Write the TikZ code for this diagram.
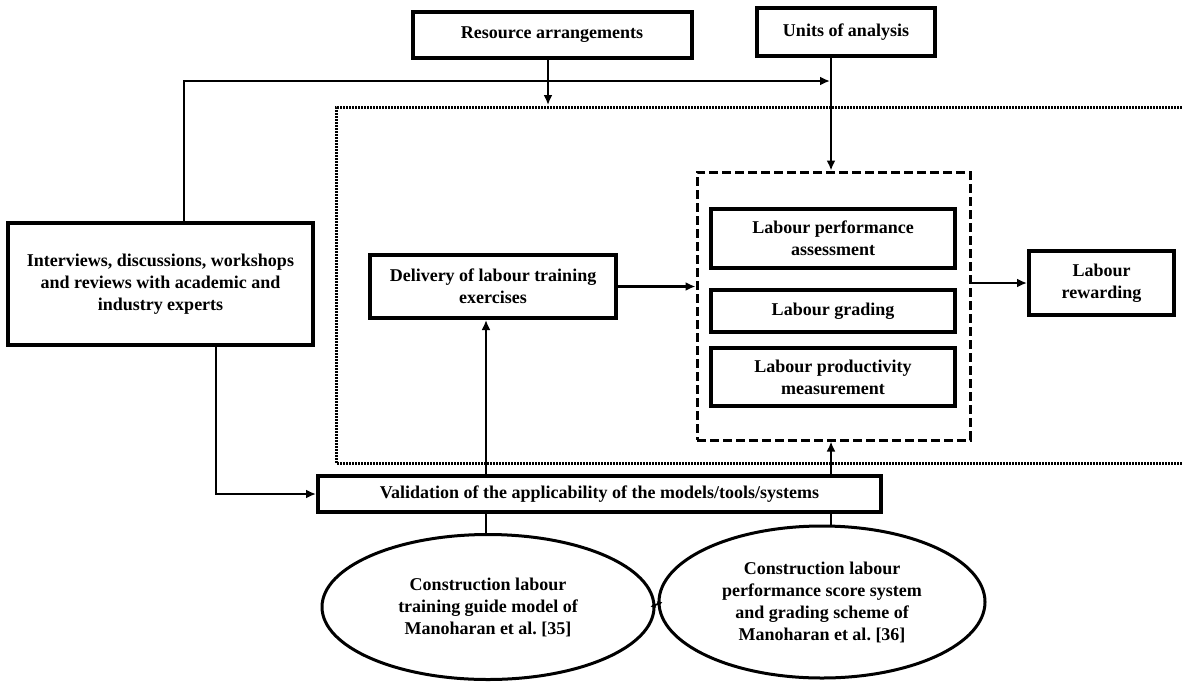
\documentclass[tikz,border=0pt]{standalone}
\usepackage{fontspec}
\setmainfont{Liberation Serif}
\usetikzlibrary{arrows.meta,shapes.geometric}
\frenchspacing
\begin{document}
\begin{tikzpicture}[x=1pt,y=-1pt,
  font=\fontsize{18}{22}\selectfont\bfseries,
  box/.style={draw,line width=4pt,rectangle,align=center,inner sep=0pt},
  oval/.style={draw,line width=3pt,ellipse,align=center,inner sep=0pt},
  conn/.style={line width=2.6pt},
  arr/.style={line width=2.4pt,-{Latex[length=10pt,width=9pt]}},
  dashbox/.style={draw,line width=3pt,dash pattern=on 9pt off 4pt,inner sep=0pt},
  dotline/.style={line width=3pt,dash pattern=on 2pt off 1pt}]
\useasboundingbox (0,0) rectangle (1182,683);
% coordinates for connector positions
\coordinate (k184) at (184,0);
\coordinate (k216) at (216,0);
\coordinate (k486) at (486,0);
\coordinate (k548) at (548,0);
\coordinate (k831) at (831,0);
\coordinate (ua) at (830,81);
% dotted frame
\draw[dotline] (1182,107) -- (336,107) -- (336,463) -- (1182,463);
% nodes
\node[box,minimum width=279,minimum height=46] (res) at (552,35) {Resource arrangements};
\node[box,minimum width=178,minimum height=48] (units) at (846,32) {Units of analysis};
\node[box,minimum width=305,minimum height=122] (int) at (160.5,284) {Interviews, discussions, workshops\\and reviews with academic and\\industry experts};
\node[box,minimum width=246,minimum height=63] (del) at (493,286.5) {Delivery of labour training\\exercises};
\node[dashbox,minimum width=273,minimum height=268] (dash) at (833.5,306) {};
\node[box,minimum width=244,minimum height=59] (lpa) at (833,238.5) {Labour performance\\assessment};
\node[box,minimum width=244,minimum height=42] (lg) at (833,311) {Labour grading};
\node[box,minimum width=244,minimum height=58] (lpm) at (833,377) {Labour productivity\\measurement};
\node[box,minimum width=145,minimum height=64] (rew) at (1101.5,283) {Labour\\rewarding};
\node[box,minimum width=563,minimum height=36] (val) at (599.5,494) {Validation of the applicability of the models/tools/systems};
\node[oval,minimum width=332,minimum height=145] (e1) at (488,607) {Construction labour\\training guide model of\\Manoharan et al. [35]};
\node[oval,minimum width=326,minimum height=152] (e2) at (822,602) {Construction labour\\performance score system\\and grading scheme of\\Manoharan et al. [36]};
% connectors
\draw[arr] (int.north -| k184) |- (ua);
\draw[arr] (res.south -| k548) -- (k548 |- 0,105);
\draw[arr] (units.south -| k831) -- (k831 |- dash.north);
\draw[arr] (del.east) -- (del.east -| dash.west);
\draw[arr] (dash.east |- rew.west) -- (rew.west);
\draw[arr] (int.south -| k216) |- (val.west);
\draw[arr] (val.north -| k486) -- (k486 |- del.south);
\draw[arr] (val.north -| k831) -- (k831 |- dash.south);
\draw[conn] (val.south -| k486) -- (k486 |- e1.north);
\draw[conn] (val.south -| k831) -- (k831 |- e2.north);
\draw[line width=1.8pt,{Latex[length=5pt,width=6pt]}-{Latex[length=5pt,width=6pt]}] ([xshift=-5pt]e1.east) -- ([xshift=5pt]e2.west);
\end{tikzpicture}
\end{document}
